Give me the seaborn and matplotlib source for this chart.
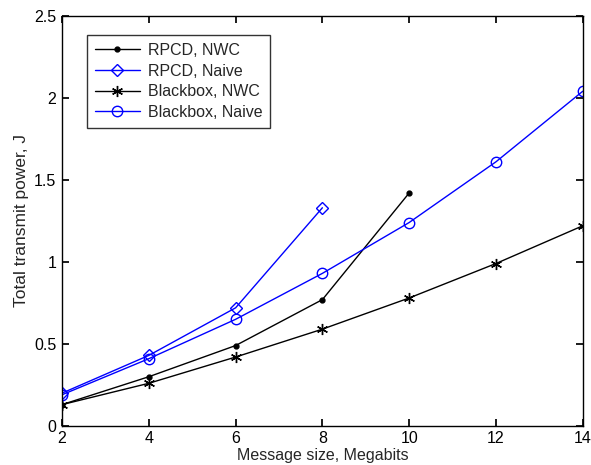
import pandas as pd
import matplotlib
matplotlib.use("Agg")
import matplotlib.pyplot as plt
import seaborn as sns

sns.set_theme(style="ticks")
plt.rcParams['font.family'] = ['Liberation Sans', 'DejaVu Sans']
plt.rcParams['xtick.direction'] = 'in'
plt.rcParams['ytick.direction'] = 'in'

# datos
x_rpcd = [2, 4, 6, 8, 10]
rpcd_nwc = [0.13, 0.30, 0.49, 0.77, 1.42]
x_rpcd_naive = [2, 4, 6, 8]
rpcd_naive = [0.20, 0.43, 0.72, 1.33]
x_bb = [2, 4, 6, 8, 10, 12, 14]
bb_nwc = [0.13, 0.26, 0.42, 0.59, 0.78, 0.99, 1.22]
bb_naive = [0.19, 0.41, 0.65, 0.93, 1.24, 1.61, 2.04]

# (nombre, x, y, color, marcador, tamaño)
series = [
    ('RPCD, NWC', x_rpcd, rpcd_nwc, 'black', '.', 7),
    ('RPCD, Naive', x_rpcd_naive, rpcd_naive, 'blue', 'D', 6),
    ('Blackbox, NWC', x_bb, bb_nwc, 'black', (6, 2, 0), 8),
    ('Blackbox, Naive', x_bb, bb_naive, 'blue', 'o', 7.5),
]

fig = plt.figure(figsize=(5.91, 4.65), dpi=100)
ax = fig.add_axes([0.105, 0.084, 0.881, 0.882])

for name, xs, ys, color, marker, ms in series:
    df = pd.DataFrame({'x': xs, 'y': ys})
    hollow = marker in ('D', 'o')
    sns.lineplot(data=df, x='x', y='y', ax=ax, color=color, marker=marker,
                 markersize=ms,
                 markerfacecolor='none' if hollow else color,
                 markeredgecolor=color, markeredgewidth=1,
                 linewidth=1, label=name)

ax.set_xlim(2, 14)
ax.set_ylim(0, 2.5)
ax.set_xticks([2, 4, 6, 8, 10, 12, 14])
ax.set_yticks([0, 0.5, 1, 1.5, 2, 2.5])
ax.set_yticklabels(['0', '0.5', '1', '1.5', '2', '2.5'])
ax.tick_params(labelsize=11.5, length=5, top=True, right=True, colors='black', pad=4)
for s in ax.spines.values():
    s.set_visible(True)
    s.set_color('black')
    s.set_linewidth(1)
ax.set_xlabel('Message size, Megabits', fontsize=11.5, labelpad=1)
ax.set_ylabel('Total transmit power, J', fontsize=12.5, labelpad=4)

leg = ax.legend(loc='upper left', bbox_to_anchor=(0.048, 0.953), fontsize=11.5,
                frameon=True, fancybox=False, edgecolor='black',
                handlelength=2.8, handletextpad=0.5, borderpad=0.5,
                labelspacing=0.35, borderaxespad=0)
leg.get_frame().set_linewidth(1)

fig.savefig('out.png', dpi=100)
